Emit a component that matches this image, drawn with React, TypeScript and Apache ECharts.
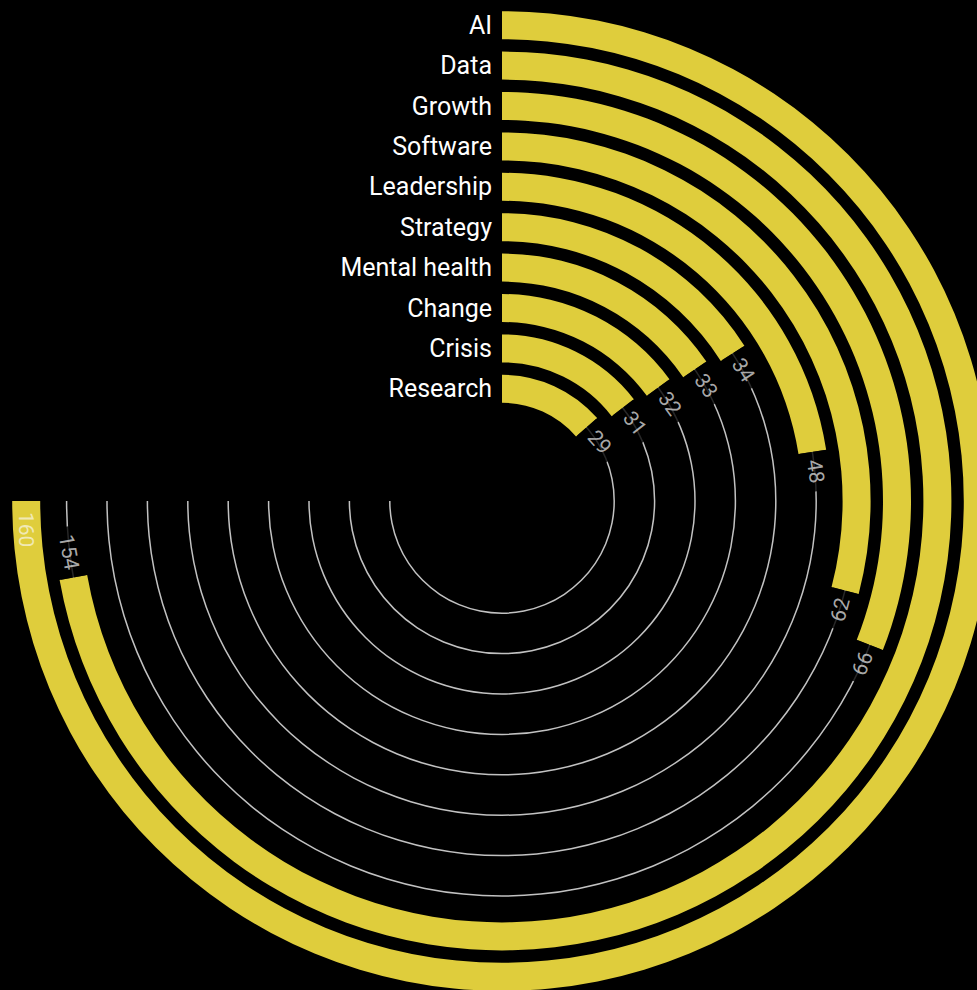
import React, { useEffect, useRef } from 'react';
import * as echarts from 'echarts';

// Categories from the outermost ring to the innermost
const categories = ['AI', 'Data', 'Growth', 'Software', 'Leadership', 'Strategy', 'Mental health', 'Change', 'Crisis', 'Research'];
const values = [160, 154, 66, 62, 48, 34, 33, 32, 31, 29];
// Thin guide tracks run out to the largest value
const trackEnd = 160;
// The largest value spans three quarters of the circle
const angleMax = trackEnd / 0.75;

const YELLOW = '#dfcd3c';
const FONT = 'Roboto';

export default function App() {
  const ref = useRef<HTMLDivElement>(null);

  useEffect(() => {
    if (!ref.current) return;
    const chart = echarts.init(ref.current, null, { renderer: 'svg' });

    const labelData = values.map((v, i) => {
      const deg = (v / angleMax) * 360;
      const flipped = deg > 90;
      const inside = v >= trackEnd;
      return {
        value: [i, v],
        label: {
          rotate: flipped ? 180 - deg : -deg,
          align: inside ? 'left' : flipped ? 'right' : 'left',
          backgroundColor: inside ? 'transparent' : '#000000',
          color: inside ? '#f6f1d6' : '#d6d6d6',
          padding: inside ? [0, 0, 0, 11] : [2, 8, 2, 8],
        },
      };
    });

    const polarCommon = { center: [502, 501], radius: [92, 496] };
    const hiddenAngle = (idx: number) => ({
      polarIndex: idx,
      type: 'value',
      min: 0,
      max: angleMax,
      startAngle: 90,
      clockwise: true,
      axisLine: { show: false },
      axisTick: { show: false },
      axisLabel: { show: false },
      splitLine: { show: false },
      splitArea: { show: false },
    });

    chart.setOption({
      animation: false,
      backgroundColor: '#000',
      textStyle: { fontFamily: FONT },
      polar: [polarCommon, polarCommon],
      angleAxis: [hiddenAngle(0), hiddenAngle(1)],
      radiusAxis: [
        {
          polarIndex: 0,
          type: 'category',
          data: categories,
          inverse: true,
          z: 10,
          axisLine: { show: false },
          axisTick: { show: false },
          splitLine: { show: false },
          splitArea: { show: false },
          axisLabel: { interval: 0, color: '#ffffff', fontSize: 25, fontFamily: FONT, margin: 10 },
        },
        {
          polarIndex: 1,
          type: 'category',
          data: categories,
          inverse: true,
          show: false,
          axisLine: { show: false },
          axisTick: { show: false },
          axisLabel: { show: false },
          splitLine: { show: false },
          splitArea: { show: false },
        },
      ],
      series: [
        {
          type: 'bar',
          coordinateSystem: 'polar',
          polarIndex: 1,
          data: categories.map(() => trackEnd),
          barWidth: 1.5,
          itemStyle: { color: '#c2c2c2' },
          z: 0,
          silent: true,
        },
        {
          type: 'bar',
          coordinateSystem: 'polar',
          polarIndex: 0,
          data: values,
          barWidth: 28,
          itemStyle: { color: YELLOW },
          z: 2,
          silent: true,
        },
        {
          type: 'scatter',
          coordinateSystem: 'polar',
          polarIndex: 0,
          data: labelData,
          symbolSize: 1,
          itemStyle: { color: 'transparent' },
          z: 5,
          zlevel: 1,
          silent: true,
          label: {
            show: true,
            position: 'inside',
            verticalAlign: 'middle',
            fontFamily: FONT,
            fontSize: 21,
            formatter: (p: any) => String(p.value[1]),
          },
        },
      ],
    });

    return () => chart.dispose();
  }, []);

  return (
    <div
      ref={ref}
      style={{ position: 'fixed', left: 0, top: 0, width: 977, height: 990, background: '#000' }}
    />
  );
}
